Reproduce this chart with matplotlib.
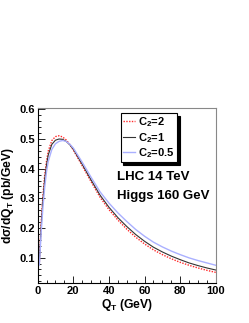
import matplotlib
matplotlib.use("Agg")
import matplotlib.pyplot as plt
from matplotlib.ticker import MultipleLocator

plt.rcParams['font.family'] = ['Liberation Sans', 'DejaVu Sans']
plt.rcParams['font.weight'] = 'bold'
plt.rcParams['mathtext.fontset'] = 'custom'
plt.rcParams['mathtext.rm'] = 'Liberation Sans:bold'
plt.rcParams['mathtext.it'] = 'Liberation Sans:bold'
plt.rcParams['mathtext.bf'] = 'Liberation Sans:bold'
plt.rcParams['mathtext.default'] = 'regular'

# Q_T values (GeV)
qt = [1, 2, 3, 4, 5, 6, 8, 10, 12, 14, 16, 18, 20, 25, 30, 35, 40, 45, 50, 55, 60,
      65, 70, 75, 80, 85, 90, 95, 100]

# d sigma / dQ_T (pb/GeV) for the three C2 choices
c2_2 = [0.085, 0.22, 0.31, 0.38, 0.425, 0.46, 0.495, 0.508, 0.511, 0.507, 0.497, 0.482, 0.463,
        0.41, 0.356, 0.304, 0.262, 0.227, 0.196, 0.169, 0.146,
        0.126, 0.11, 0.096, 0.084, 0.074, 0.065, 0.057, 0.05]
c2_1 = [0.082, 0.205, 0.295, 0.365, 0.412, 0.447, 0.482, 0.496, 0.5, 0.499, 0.492, 0.481, 0.466,
        0.415, 0.362, 0.311, 0.27, 0.235, 0.205, 0.178, 0.155,
        0.135, 0.119, 0.105, 0.093, 0.082, 0.073, 0.065, 0.058]
c2_05 = [0.075, 0.185, 0.27, 0.338, 0.39, 0.425, 0.465, 0.484, 0.492, 0.495, 0.492, 0.483, 0.47,
         0.422, 0.371, 0.322, 0.284, 0.251, 0.222, 0.195, 0.172,
         0.152, 0.136, 0.122, 0.11, 0.099, 0.09, 0.082, 0.074]

fig = plt.figure(figsize=(2.49, 3.23), dpi=100)
ax = fig.add_axes([0.151, 0.124, 0.716, 0.542])

ax.plot(qt, c2_2, color='#ff2a2a', ls=(0, (1, 1)), lw=1.0, label='C$_2$=2')
ax.plot(qt, c2_1, color='#333333', lw=0.8, label='C$_2$=1')
ax.plot(qt, c2_05, color='#aab0ff', lw=1.0, label='C$_2$=0.5')

ax.set_xlim(0, 100)
ax.set_ylim(0.0145, 0.605)
ax.xaxis.set_major_locator(MultipleLocator(20))
ax.xaxis.set_minor_locator(MultipleLocator(5))
ax.yaxis.set_major_locator(MultipleLocator(0.1))
ax.yaxis.set_minor_locator(MultipleLocator(0.02))
ax.yaxis.set_major_formatter(plt.FuncFormatter(lambda v, p: f"{v:.1f}"))
ax.tick_params(which='both', direction='in', top=False, right=False, labelsize=8, pad=2)
ax.tick_params(which='major', length=5, width=0.6)
ax.tick_params(which='minor', length=2.5, width=0.6)
for lab in ax.get_xticklabels() + ax.get_yticklabels():
    lab.set_fontweight('bold')
for s in ['top', 'right']:
    ax.spines[s].set_color('#888888')
    ax.spines[s].set_linewidth(0.8)
for s in ['left', 'bottom']:
    ax.spines[s].set_linewidth(0.8)

ax.set_xlabel('Q$_T$ (GeV)', fontsize=8.7, fontweight='bold', labelpad=1)
ax.set_ylabel('dσ/dQ$_T$ (pb/GeV)', fontsize=8.7, fontweight='bold', labelpad=2)

leg = ax.legend(loc='upper left', bbox_to_anchor=(0.466, 0.97), borderaxespad=0,
                fontsize=8, handlelength=1.1, handletextpad=0.3, labelspacing=0.15,
                borderpad=0.2, fancybox=False, framealpha=1,
                shadow={'color': 'black', 'alpha': 1})
leg.get_frame().set_edgecolor('black')
leg.get_frame().set_linewidth(0.8)

ax.text(0.445, 0.606, 'LHC 14 TeV', transform=ax.transAxes, fontsize=9.5,
        fontweight='bold', va='center')
ax.text(0.445, 0.497, 'Higgs 160 GeV', transform=ax.transAxes, fontsize=9.5,
        fontweight='bold', va='center')

fig.savefig('out.png', dpi=100)
